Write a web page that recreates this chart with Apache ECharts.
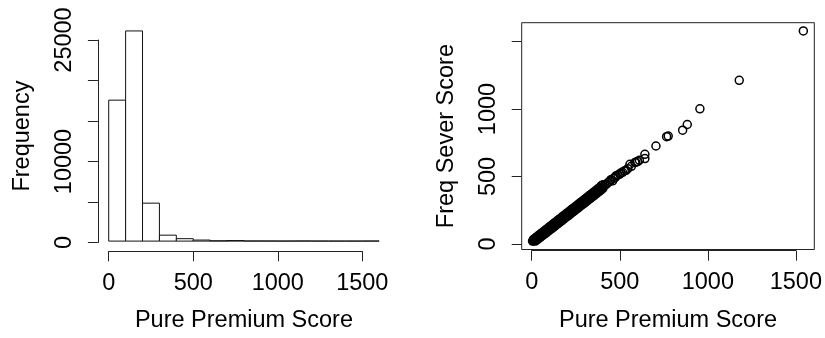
<!DOCTYPE html>
<html>
<head>
<meta charset="utf-8">
<script src="https://cdn.jsdelivr.net/npm/echarts@6/dist/echarts.min.js"></script>
<style>
  html, body { margin: 0; padding: 0; background: #fff; }
  #chart { width: 825px; height: 338px; }
</style>
</head>
<body>
<div id="chart"></div>
<script>
// ---------- data ----------
const binEdges = [0,100,200,300,400,500,600,700,800,900,1000,1100,1200,1300,1400,1500,1600];
const binCounts = [17510,26110,4716,740,300,130,40,70,20,15,8,20,5,3,3,10];

const histXShownLabels = [0, 500, 1000, 1500];
const histYShownLabels = [0, 10000, 25000];
const scatterXShownLabels = [0, 500, 1000, 1500];
const scatterYShownLabels = [0, 500, 1000];

const xTitle = 'Pure Premium Score';
const histYTitle = 'Frequency';
const scatterYTitle = 'Freq Sever Score';

// Pure Premium Score vs Freq Sever Score
const scorePairs = [
  [5,13],[10,14],[15,19],[20,24],[25,28],[30,34],[35,38],[40,45],[45,49],[50,54],
  [55,60],[60,64],[65,70],[70,74],[75,80],[80,85],[85,90],[90,95],[95,101],[100,106],
  [110,116],[120,127],[130,137],[140,147],[150,158],[160,168],[170,178],[180,189],[190,199],[200,209],
  [210,220],[220,230],[230,240],[240,251],[250,261],[260,272],[270,282],[280,292],[290,303],[300,313],
  [310,323],[320,334],[330,344],[340,354],[350,365],[360,375],[370,385],[380,396],[390,406],[400,417],
  [410,428],[420,437],
  [10,25],[20,36],[30,46],[40,57],[50,67],[60,77],[70,88],[80,98],[90,108],[100,119],
  [110,129],[120,140],[130,150],[140,160],[150,171],[160,181],[170,192],[180,202],[190,212],[200,223],
  [210,233],[220,244],[230,254],[240,264],[250,275],[260,285],[270,296],[280,306],[290,316],[300,327],
  [310,337],[320,348],[330,358],[340,368],[350,379],[360,389],[370,400],[380,410],[390,425],[400,432],
  [20,13],[30,22],[40,33],[50,43],[60,53],[70,63],[80,73],[90,83],[100,94],[110,104],
  [120,114],[130,125],[140,135],[150,145],[160,156],[170,166],[180,176],[190,187],[200,197],[210,207],
  [220,218],[230,228],[240,238],[250,249],[260,259],[270,269],[280,280],[290,290],[300,300],[310,311],
  [320,321],[330,331],[340,342],[350,352],[360,362],[370,373],[380,383],[390,394],[400,405],
  [430,450],[440,458],[445,470],[455,462],[460,480],[470,488],[475,500],[485,505],[495,512],[500,520],
  [510,525],[520,535],[530,540],[540,552],[552,585],[560,570],[580,598],[585,600],[595,605],[605,615],
  [636,659],[636,627],[698,721],[758,790],[767,795],[848,839],[874,881],[945,998],[1166,1210],[1526,1578]
];

// ---------- chart ----------
const FONT = 'Liberation Sans, Arial, Helvetica, sans-serif';
const FS = 23.5;
const AX = '#222';

const hidden = {
  axisLine: { show: false }, axisTick: { show: false },
  axisLabel: { show: false }, splitLine: { show: false }
};

const shownFormatter = list => (v => list.indexOf(v) >= 0 ? String(v) : '');

const histData = binCounts.map((c, i) => [binEdges[i], binEdges[i + 1], c]);

const chart = echarts.init(document.getElementById('chart'), null, { renderer: 'canvas' });

function displayXAxis(gridIndex, shown) {
  return { gridIndex: gridIndex, type: 'value', min: 0, max: 1500, interval: 500, position: 'bottom',
    axisLine: { show: true, lineStyle: { color: AX, width: 1 } },
    axisTick: { show: true, inside: false, length: 10, lineStyle: { color: AX, width: 1 } },
    axisLabel: { show: true, margin: 20, fontSize: FS, fontFamily: FONT, color: '#000',
      showMinLabel: true, showMaxLabel: true, formatter: shownFormatter(shown) },
    splitLine: { show: false } };
}
function displayYAxis(gridIndex, max, interval, shown, showLine) {
  return { gridIndex: gridIndex, type: 'value', min: 0, max: max, interval: interval, position: 'left',
    axisLine: { show: showLine, lineStyle: { color: AX, width: 1 } },
    axisTick: { show: true, inside: false, length: 10, lineStyle: { color: AX, width: 1 } },
    axisLabel: { show: true, margin: 21, rotate: 90, fontSize: FS, fontFamily: FONT, color: '#000',
      showMinLabel: true, showMaxLabel: true, formatter: shownFormatter(shown) },
    splitLine: { show: false } };
}
const nameStyle = { fontSize: FS, fontFamily: FONT, color: '#000' };

const option = {
  animation: false,
  backgroundColor: '#fff',
  textStyle: { fontFamily: FONT, color: '#000' },
  grid: [
    { left: 97.9, top: 22.7, width: 292.1, height: 228.3 },
    { left: 108.7, top: 200, width: 253.6, height: 51.3 },
    { left: 97.9, top: 40.0, width: 10, height: 202.5 },
    { left: 521.7, top: 22.7, width: 292.6, height: 228, show: true,
      borderColor: '#222', borderWidth: 1, backgroundColor: 'transparent' },
    { left: 531.7, top: 200, width: 267, height: 50.7 },
    { left: 521.7, top: 41.5, width: 10, height: 202.5 }
  ],
  xAxis: [
    Object.assign({ gridIndex: 0, type: 'value', min: -64, max: 1664,
      name: xTitle, nameLocation: 'middle', nameGap: 59.5, nameTextStyle: nameStyle }, hidden),
    displayXAxis(1, histXShownLabels),
    Object.assign({ gridIndex: 2, type: 'value', min: 0, max: 1 }, hidden),
    Object.assign({ gridIndex: 3, type: 'value', min: -56, max: 1587.6,
      name: xTitle, nameLocation: 'middle', nameGap: 59.5, nameTextStyle: nameStyle }, hidden),
    displayXAxis(4, scatterXShownLabels),
    Object.assign({ gridIndex: 5, type: 'value', min: 0, max: 1 }, hidden)
  ],
  yAxis: [
    Object.assign({ gridIndex: 0, type: 'value', min: -1043.6, max: 27133.6,
      name: histYTitle, nameLocation: 'middle', nameGap: 63.5, nameRotate: 90, nameTextStyle: nameStyle }, hidden),
    Object.assign({ gridIndex: 1, type: 'value', min: 0, max: 1 }, hidden),
    displayYAxis(2, 25000, 5000, histYShownLabels, true),
    Object.assign({ gridIndex: 3, type: 'value', min: -49.6, max: 1639,
      name: scatterYTitle, nameLocation: 'middle', nameGap: 63.5, nameRotate: 90, nameTextStyle: nameStyle }, hidden),
    Object.assign({ gridIndex: 4, type: 'value', min: 0, max: 1 }, hidden),
    displayYAxis(5, 1500, 500, scatterYShownLabels, false)
  ],
  series: [
    {
      type: 'custom',
      xAxisIndex: 0, yAxisIndex: 0,
      data: histData,
      renderItem: function (params, api) {
        const p0 = api.coord([api.value(0), 0]);
        const p1 = api.coord([api.value(1), api.value(2)]);
        return {
          type: 'rect',
          shape: { x: p0[0], y: p1[1], width: p1[0] - p0[0], height: p0[1] - p1[1] },
          style: { fill: '#fff', stroke: '#111', lineWidth: 1 }
        };
      }
    },
    {
      type: 'scatter',
      xAxisIndex: 3, yAxisIndex: 3,
      data: scorePairs,
      symbol: 'circle',
      symbolSize: 8,
      itemStyle: { color: 'rgba(0,0,0,0)', borderColor: '#000', borderWidth: 1.5, opacity: 1 },
      emphasis: { disabled: true }
    }
  ]
};

chart.setOption(option);
</script>
</body>
</html>
